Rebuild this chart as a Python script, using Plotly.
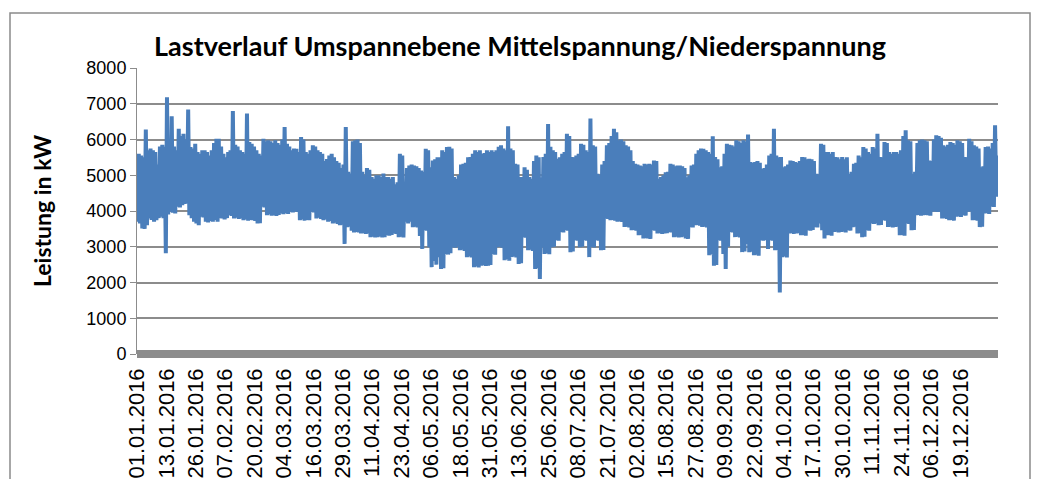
import plotly.graph_objects as go

# ---------------- data ----------------
# daily maximum load in kW, 01.01.2016 ... 31.12.2016 (366 days)
daily_max = [
    5600, 5550, 5500, 6280, 5700, 5750, 5700, 5650, 5300, 5800,
    5850, 5800, 7180, 5900, 6650, 5800, 5700, 6300, 6100, 6160,
    6000, 6840, 5790, 5750, 5880, 5650, 5600, 5700, 5700, 5650,
    5550, 5700, 5900, 6020, 6020, 5800, 5600, 5500, 5650, 5700,
    6800, 5850, 5800, 5700, 5650, 5600, 6730, 5930, 5880, 5800,
    5700, 5600, 5550, 6020, 5950, 5980, 5950, 5900, 5980, 5900,
    5850, 6000, 6350, 5880, 5800, 5700, 5750, 5740, 5650, 6070,
    6000, 5650, 5600, 5700, 5840, 5800, 5700, 5650, 5600, 5400,
    5450, 5550, 5600, 5500, 5400, 5350, 5200, 5300, 6350, 5100,
    5050, 5950, 5980, 6000, 5900, 5100, 5000, 5200, 5150, 4950,
    4900, 5000, 5000, 4950, 5050, 4950, 4950, 4900, 4950, 4750,
    4800, 5600, 5550, 4750, 5200, 5270, 5300, 5270, 5250, 5200,
    5130, 5100, 5740, 5700, 5220, 5410, 5450, 5500, 5500, 5700,
    5650, 5790, 5800, 5750, 4950, 4900, 5000, 5300, 5320, 5350,
    5500, 5510, 5600, 5700, 5650, 5700, 5600, 5620, 5700, 5650,
    5700, 5650, 5700, 5800, 5840, 5750, 5700, 6370, 5750, 5700,
    5320, 5300, 4950, 4950, 5220, 5150, 4950, 4900, 5400, 5550,
    5500, 4940, 5510, 5600, 6430, 5800, 5700, 5650, 5460, 5500,
    5600, 5650, 6160, 6100, 5510, 5500, 5550, 5600, 5880, 5850,
    5700, 5650, 6590, 5840, 5800, 5040, 5000, 5300, 5400, 5840,
    5900, 6100, 6300, 6200, 5980, 6000, 5950, 5840, 5800, 5700,
    5400, 5320, 5300, 5270, 5250, 5320, 5300, 5320, 5300, 5410,
    5400, 4900, 4950, 5000, 5080, 5100, 5320, 5300, 5250, 5270,
    5270, 5250, 5200, 4940, 5000, 5270, 5300, 5600, 5700, 5750,
    5740, 5700, 5650, 5600, 6090, 5510, 5450, 5220, 5250, 5600,
    5880, 5850, 5840, 5800, 5980, 5950, 5900, 5980, 5950, 6140,
    5370, 5350, 5370, 5400, 5350, 5180, 5200, 5300, 5550, 5600,
    6300, 5550, 5500, 5510, 5220, 5250, 5300, 5410, 5400, 5370,
    5350, 5400, 5510, 5500, 5450, 5460, 5450, 5400, 5040, 5000,
    5880, 5850, 5650, 5650, 5600, 5650, 5510, 5500, 5450, 5510,
    5450, 5500, 5040, 5100, 5320, 5350, 5550, 5500, 5790, 5750,
    5650, 5600, 5790, 5750, 6160, 5510, 5500, 5930, 5900, 5650,
    5600, 5650, 5650, 5600, 5700, 6100, 6260, 5980, 5950, 5040,
    5100, 5900, 5980, 6000, 5980, 5950, 5410, 5400, 6000, 6120,
    6100, 6050, 5840, 5800, 5850, 5930, 5900, 5850, 5980, 5950,
    5900, 5510, 5500, 6020, 5950, 5840, 5800, 5750, 5220, 5250,
    5790, 5800, 5750, 5900, 6400, 5550,
]

# daily minimum load in kW
daily_min = [
    3700, 3650, 3510, 3500, 3600, 3790, 3750, 3700, 3740, 3800,
    3840, 3800, 2820, 3900, 3980, 3950, 3930, 4120, 4100, 4160,
    4200, 4210, 3880, 3800, 3700, 3650, 3600, 3840, 3820, 3700,
    3680, 3720, 3700, 3750, 3700, 3800, 3790, 3760, 3800, 3880,
    3860, 3790, 3810, 3780, 3790, 3740, 3760, 3730, 3750, 3740,
    3720, 3650, 3660, 4120, 4100, 3880, 3900, 3870, 3880, 3860,
    3890, 3930, 3910, 3940, 3920, 3980, 3960, 3990, 3970, 3740,
    3760, 3730, 3750, 3740, 3980, 3960, 3790, 3810, 3780, 3740,
    3760, 3700, 3720, 3650, 3670, 3640, 3600, 3620, 3080, 3550,
    3560, 3450, 3400, 3410, 3400, 3370, 3380, 3360, 3370, 3270,
    3280, 3260, 3270, 3290, 3260, 3270, 3320, 3310, 3330, 3370,
    3360, 3270, 3280, 3260, 3700, 3650, 3700, 3550, 3560, 3540,
    3300, 2940, 3460, 3450, 2990, 2430, 2600, 2500, 2710, 2380,
    2400, 2800, 2780, 2820, 2990, 2970, 3000, 2900, 2920, 2880,
    2710, 2730, 2700, 2430, 2450, 2420, 2470, 2480, 2460, 2470,
    2490, 2800, 2780, 2990, 3000, 2970, 2620, 2640, 2610, 2710,
    2730, 2700, 2520, 2540, 3270, 3250, 2900, 2920, 2880, 2380,
    2400, 2100, 2990, 2800, 2820, 2790, 2990, 3000, 3180, 3170,
    3410, 3400, 3460, 3450, 2850, 2870, 3180, 3170, 2990, 3000,
    3180, 3170, 2710, 2990, 2980, 3180, 3170, 2900, 2910, 3790,
    3780, 3740, 3750, 3730, 3700, 3710, 3690, 3550, 3560, 3540,
    3460, 3470, 3450, 3320, 3330, 3230, 3240, 3230, 3220, 3460,
    3450, 3370, 3380, 3360, 3370, 3380, 3410, 3400, 3270, 3280,
    3260, 3270, 3280, 3230, 3220, 3550, 3540, 3600, 3610, 3590,
    3550, 3560, 3540, 2760, 2780, 2470, 2490, 3180, 3170, 2800,
    2380, 3000, 3410, 3400, 3270, 3280, 3260, 2850, 2870, 3080,
    2850, 2860, 2760, 2780, 2750, 3180, 3170, 3190, 2940, 3180,
    3170, 2900, 2910, 1720, 2710, 2730, 2700, 3370, 3380, 3360,
    3370, 3380, 3320, 3330, 3310, 3460, 3450, 3470, 3550, 3540,
    3650, 3460, 3230, 3320, 3330, 3310, 3410, 3420, 3400, 3410,
    3420, 3400, 3460, 3450, 3550, 3560, 3370, 3380, 3270, 3280,
    3460, 3450, 3650, 3640, 3650, 3600, 3610, 3740, 3730, 3550,
    3560, 3540, 3550, 3560, 3320, 3330, 3310, 3650, 3640, 3460,
    3470, 3880, 3890, 3870, 3880, 3890, 3880, 3870, 3980, 3990,
    3970, 3980, 3790, 3800, 3780, 3740, 3750, 3730, 3840, 3850,
    3830, 3880, 3870, 3980, 3990, 3740, 3750, 3730, 3550, 3560,
    3930, 3940, 3920, 4120, 4110, 4400,
]

tick_labels = [
    "01.01.2016", "13.01.2016", "26.01.2016", "07.02.2016", "20.02.2016",
    "04.03.2016", "16.03.2016", "29.03.2016", "11.04.2016", "23.04.2016",
    "06.05.2016", "18.05.2016", "31.05.2016", "13.06.2016", "25.06.2016",
    "08.07.2016", "21.07.2016", "02.08.2016", "15.08.2016", "27.08.2016",
    "09.09.2016", "22.09.2016", "04.10.2016", "17.10.2016", "30.10.2016",
    "11.11.2016", "24.11.2016", "06.12.2016", "19.12.2016",
]
tick_step_days = 12.5
y_ticks = [0, 1000, 2000, 3000, 4000, 5000, 6000, 7000, 8000]

title_text = "Lastverlauf Umspannebene Mittelspannung/Niederspannung"
y_title = "Leistung in kW"

# ---------------- build series ----------------
xs, ys = [], []
for d, (lo, hi) in enumerate(zip(daily_min, daily_max)):
    xs += [d + 0.25, d + 0.75]
    ys += [lo, hi]

# the page body adds an 8px margin; the figure is sized to end at the window edge
OFF = 8
W, H = 1040 - OFF, 479 - OFF
L, R, T, B = 137 - OFF, 42, 68 - OFF, 125
pw, ph = W - L - R, H - T - B


def px(xw):
    """window pixel x -> paper x"""
    return (xw - OFF - L) / pw


def py(yw):
    """window pixel y -> paper y"""
    return (T + ph - (yw - OFF)) / ph


fig = go.Figure()
fig.add_trace(go.Scatter(
    x=xs, y=ys, mode="lines",
    line=dict(color="#4A7EBB", width=4),
    hoverinfo="skip", showlegend=False,
))

grid_col = "#8C8C8C"
frame_col = "#8A8A8A"
fig.update_layout(
    width=W, height=H,
    margin=dict(l=L, r=R, t=T, b=B, pad=0, autoexpand=False),
    paper_bgcolor="white", plot_bgcolor="white",
    title=dict(
        text="<b>" + title_text + "</b>",
        x=(520 - OFF) / W, xref="container", xanchor="center",
        y=1 - (47 - OFF) / H, yref="container", yanchor="middle",
        font=dict(family="Lato", size=27, color="black"),
    ),
    xaxis=dict(
        range=[0, len(daily_max)],
        tickmode="array",
        tickvals=[i * tick_step_days for i in range(len(tick_labels))],
        ticktext=tick_labels,
        tickangle=-90,
        tickfont=dict(family="Liberation Sans", size=22, color="black"),
        ticklabelstandoff=9,
        showgrid=False, zeroline=False, showline=False,
        ticks="", fixedrange=True, automargin=False,
    ),
    yaxis=dict(
        range=[0, 8000],
        tickmode="array", tickvals=y_ticks,
        tickfont=dict(family="Liberation Sans", size=18, color="black"),
        showgrid=True, gridcolor=grid_col, gridwidth=1.5,
        zeroline=True, zerolinecolor="#8C8C8C", zerolinewidth=8,
        showline=True, linecolor=grid_col, linewidth=1,
        ticks="outside", ticklen=6, tickcolor=grid_col,
        title=dict(text="<b>" + y_title + "</b>", standoff=28,
                   font=dict(family="Lato", size=23, color="black")),
        fixedrange=True, automargin=False,
    ),
    shapes=[
        # frame of the chart object
        dict(type="rect", xref="paper", yref="paper",
             x0=px(10), x1=px(1030), y0=py(500), y1=py(13),
             line=dict(color=frame_col, width=1.5), layer="below"),
        # bottom edge of the chart above
        dict(type="line", xref="paper", yref="paper",
             x0=px(3), x1=px(1037), y0=py(7), y1=py(7),
             line=dict(color=frame_col, width=1.5), layer="below"),
        dict(type="line", xref="paper", yref="paper",
             x0=px(3), x1=px(3), y0=py(-5), y1=py(7),
             line=dict(color=frame_col, width=1.5), layer="below"),
        dict(type="line", xref="paper", yref="paper",
             x0=px(1037), x1=px(1037), y0=py(-5), y1=py(7),
             line=dict(color=frame_col, width=1.5), layer="below"),
    ],
)

fig.write_html("out.html")
